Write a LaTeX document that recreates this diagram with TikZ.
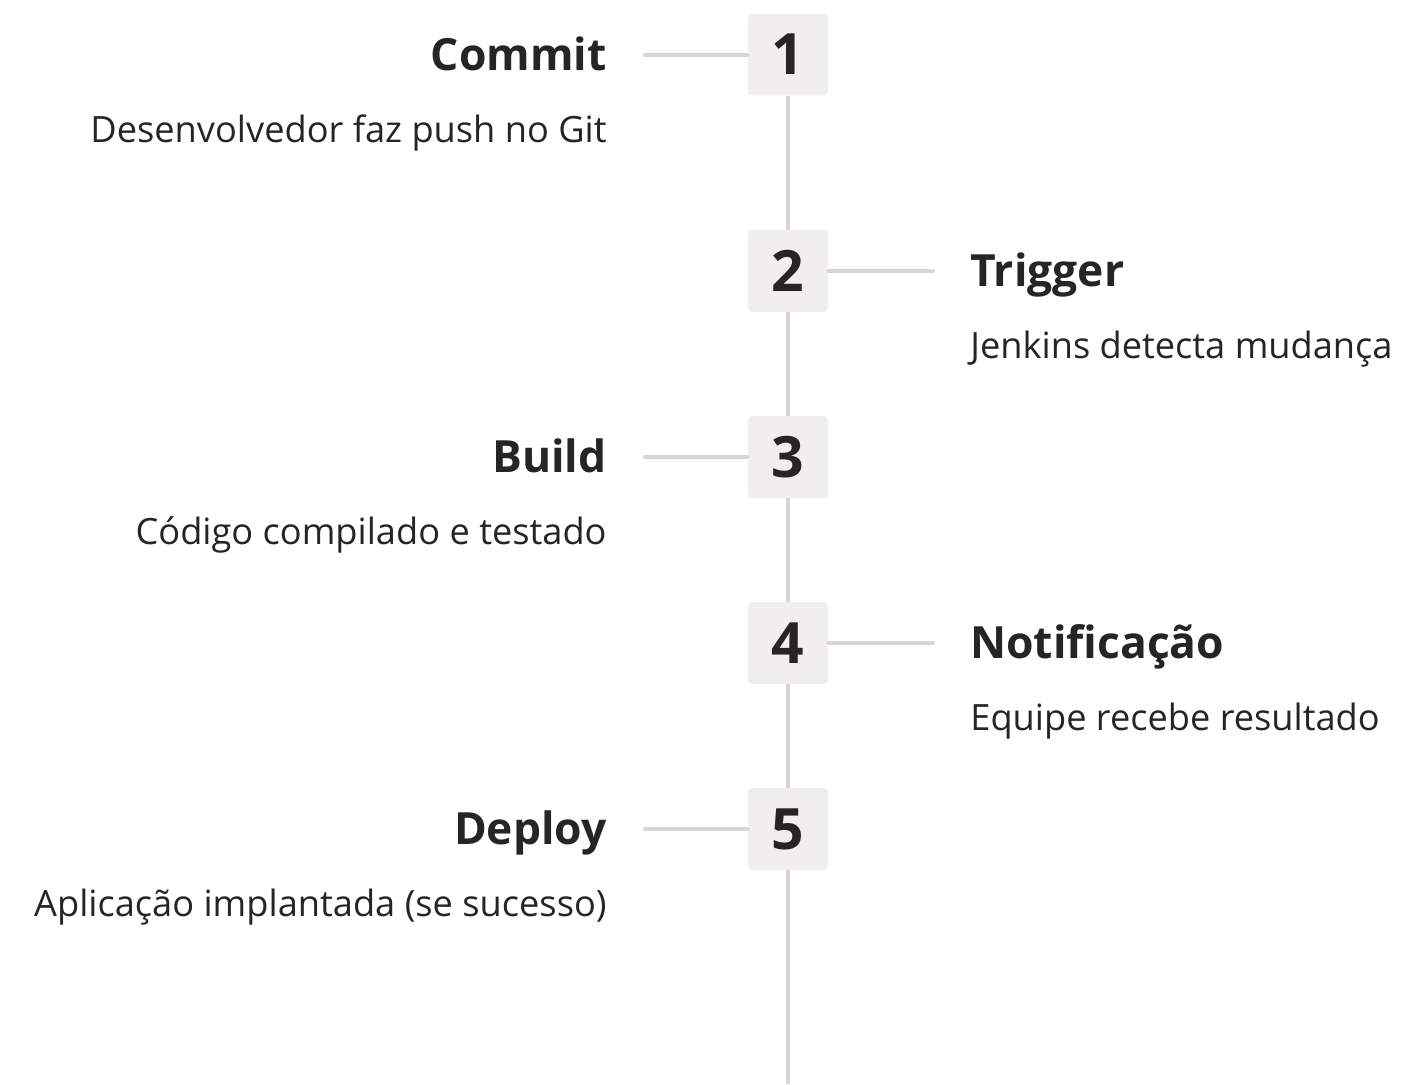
\documentclass[tikz,border=0pt]{standalone}
\usepackage{fontspec}
\setmainfont{Open Sans}
\definecolor{ink}{RGB}{38,36,36}
\definecolor{boxfill}{RGB}{241,238,238}
\definecolor{railgray}{RGB}{217,213,213}

\begin{document}
\begin{tikzpicture}[x=0.5pt,y=-0.5pt,
    stepnum/.style={fill=boxfill, rounded corners=2pt, minimum width=40pt, minimum height=41pt,
      inner sep=0pt, text=ink, font=\bfseries\fontsize{28.5}{30}\selectfont},
    title/.style={inner sep=0pt, text=ink, font=\bfseries\fontsize{22.2}{26}\selectfont},
    desc/.style={inner sep=0pt, text=ink, font=\fontsize{18.1}{21}\selectfont},
    rail/.style={draw=railgray, line width=2pt},
    tick/.style={draw=railgray, line width=2pt, line cap=round}]
                              \useasboundingbox (0,0) rectangle (1407,1084);

                              \node[stepnum] (n1) at (788,54.5) {1};
                              \node[stepnum] (n2) at (788,271) {2};
                              \node[stepnum] (n3) at (788,457) {3};
                              \node[stepnum] (n4) at (788,643) {4};
                              \node[stepnum] (n5) at (788,829) {5};
                              \coordinate (railend) at (788,1084);

                              \node[title, anchor=base east] (t1) at (607,70) {Commit};
                              \node[desc, anchor=base east] (d1) at (607,142) {Desenvolvedor faz push no Git};
                              \node[title, anchor=base west] (t2) at (970,286.5) {Trigger};
                              \node[desc, anchor=base west] (d2) at (970,358.5) {Jenkins detecta mudança};
                              \node[title, anchor=base east] (t3) at (607,472.5) {Build};
                              \node[desc, anchor=base east] (d3) at (607,544.5) {Código compilado e testado};
                              \node[title, anchor=base west] (t4) at (970,658.5) {Notificação};
                              \node[desc, anchor=base west] (d4) at (970,730.5) {Equipe recebe resultado};
                              \node[title, anchor=base east] (t5) at (607,844.5) {Deploy};
                              \node[desc, anchor=base east] (d5) at (607,916.5) {Aplicação implantada (se sucesso)};

                              \draw[rail] (n1) -- (n2);
                              \draw[rail] (n2) -- (n3);
                              \draw[rail] (n3) -- (n4);
                              \draw[rail] (n4) -- (n5);
                              \draw[rail] (n5) -- (railend);

                              \draw[tick, shorten >=19pt] (n1.west) -- (n1.west -| t1.east);
                              \draw[tick, shorten >=18.5pt] (n2.east) -- (n2.east -| t2.west);
                              \draw[tick, shorten >=19pt] (n3.west) -- (n3.west -| t3.east);
                              \draw[tick, shorten >=18.5pt] (n4.east) -- (n4.east -| t4.west);
                              \draw[tick, shorten >=19pt] (n5.west) -- (n5.west -| t5.east);
                      \end{tikzpicture}
\end{document}
